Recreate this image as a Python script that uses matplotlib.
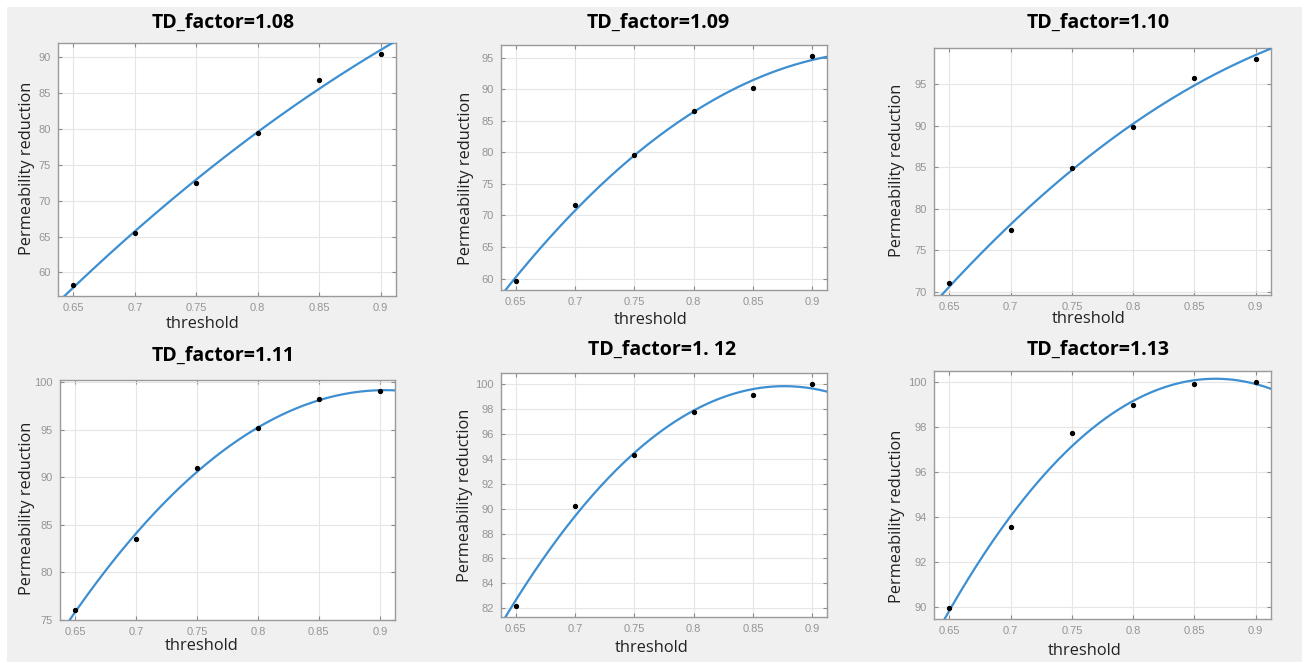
import matplotlib
matplotlib.use("Agg")
import matplotlib.pyplot as plt
from matplotlib.patches import Rectangle
import numpy as np

# threshold values shared by every case
threshold = [0.65, 0.70, 0.75, 0.80, 0.85, 0.90]

# permeability reduction for each TD factor
perm_108 = [58.2, 65.5, 72.4, 79.5, 86.8, 90.4]
perm_109 = [59.7, 71.6, 79.6, 86.6, 90.2, 95.3]
perm_110 = [71.0, 77.4, 84.9, 89.9, 95.8, 98.1]
perm_111 = [76.1, 83.5, 91.0, 95.2, 98.2, 99.1]
perm_112 = [82.2, 90.25, 94.35, 97.8, 99.1, 100.0]
perm_113 = [89.96, 93.58, 97.73, 98.99, 99.92, 100.0]

titles = ["TD_factor=1.08", "TD_factor=1.09", "TD_factor=1.10",
          "TD_factor=1.11", "TD_factor=1. 12", "TD_factor=1.13"]
series = [perm_108, perm_109, perm_110, perm_111, perm_112, perm_113]
ylims = [(56.7, 92.0), (58.2, 97.0), (69.6, 99.4),
         (75.0, 100.25), (81.3, 100.9), (89.47, 100.49)]
yticks = [np.arange(60, 91, 5), np.arange(60, 96, 5), np.arange(70, 96, 5),
          np.arange(75, 101, 5), np.arange(82, 101, 2), np.arange(90, 101, 2)]

W, H = 1306, 663
# axes boxes in pixels: left, top, right, bottom
boxes = [(58, 43, 396, 296), (501, 45, 827, 290), (934, 48, 1271, 295),
         (60, 380, 395, 620), (501, 373, 827, 617), (934, 371, 1271, 619)]
title_pos = [(223, 23), (658, 23), (1098, 23), (223, 356), (662, 350), (1098, 350)]
ylab_pos = [(27, 168), (466, 178), (897, 170), (27, 508), (465, 495), (897, 516)]
xlab_pos = [(203, 324), (651, 320), (1089, 319), (202, 646), (652, 648), (1085, 651)]

fig = plt.figure(figsize=(W / 100, H / 100), dpi=100, facecolor="white")
fig.patches.append(Rectangle((7 / W, 1 - 662 / H), 1295 / W, 655 / H,
                             transform=fig.transFigure, facecolor="#f0f0f0",
                             edgecolor="none", zorder=-10))

def fx(px):
    return px / W

def fy(py):
    return 1 - py / H

xfit = np.linspace(0.6375, 0.9125, 200)
for i in range(6):
    l, t, r, b = boxes[i]
    ax = fig.add_axes([fx(l), fy(b), (r - l) / W, (b - t) / H])
    ax.set_facecolor("white")
    coef = np.polyfit(threshold, series[i], 2)
    ax.plot(xfit, np.polyval(coef, xfit), color="#3d8fd1", lw=1.6, zorder=3)
    ax.plot(threshold, series[i], "o", color="black", ms=2.8, zorder=4)
    ax.set_xlim(0.6375, 0.9125)
    ax.set_ylim(*ylims[i])
    ax.set_xticks(threshold)
    ax.set_xticklabels(["0.65", "0.7", "0.75", "0.8", "0.85", "0.9"])
    ax.set_yticks(yticks[i])
    ax.grid(True, color="#e6e6e6", lw=0.8)
    ax.set_axisbelow(True)
    ax.tick_params(direction="in", length=3, width=0.8, top=True, right=True,
                   colors="#8a8a8a", labelsize=8, pad=5)
    for lab in ax.get_xticklabels() + ax.get_yticklabels():
        lab.set_fontfamily("Liberation Sans")
        lab.set_color("#959595")
    for sp in ax.spines.values():
        sp.set_color("#9a9a9a")
        sp.set_linewidth(1.0)
    fig.text(fx(title_pos[i][0]), fy(title_pos[i][1]), titles[i], ha="center",
             va="center", fontsize=14, fontweight="bold", family="Open Sans")
    fig.text(fx(ylab_pos[i][0]), fy(ylab_pos[i][1]), "Permeability reduction",
             ha="center", va="center", rotation=90, fontsize=11.8,
             family="Open Sans", color="#222222")
    fig.text(fx(xlab_pos[i][0]), fy(xlab_pos[i][1]), "threshold", ha="center",
             va="center", fontsize=11.8, family="Open Sans", color="#222222")

fig.savefig("out.png", dpi=100, facecolor="white")
